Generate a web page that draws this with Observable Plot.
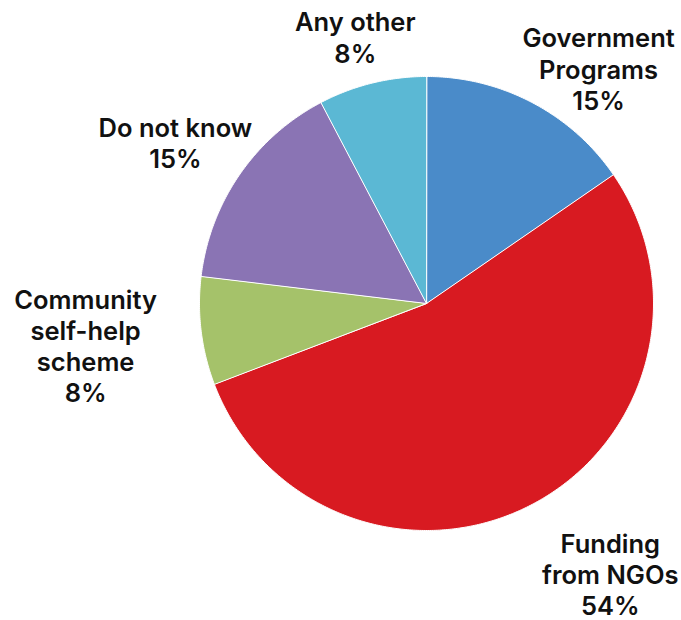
<!DOCTYPE html>
<html>
<head>
<meta charset="utf-8">
<script src="https://cdn.jsdelivr.net/npm/d3@7"></script>
<script src="https://cdn.jsdelivr.net/npm/@observablehq/plot@0.6"></script>
<style>
  html, body { margin: 0; padding: 0; background: #fff; }
  #chart svg { display: block; }
</style>
</head>
<body>
<div id="chart"></div>
<script>
// ---- data ----
const categories = ["Government\nPrograms", "Funding\nfrom NGOs", "Community\nself-help\nscheme", "Do not know", "Any other"];
const values = [15.4, 53.8, 7.7, 15.4, 7.7];
const percentLabels = ["15%", "54%", "8%", "15%", "8%"];
const colors = ["#4a8bc9", "#d81a21", "#a5c26a", "#8a74b4", "#5bb8d4"];

// ---- label layout (radius in pie radii, angular nudge in degrees) ----
const labelRadius = [1.283, 1.44, 1.513, 1.314, 1.215];
const labelShift = [8.5, -6.5, 0, -1.9, -1.1];

// ---- geometry via d3.pie (clockwise from 12 o'clock) ----
const arcs = d3.pie().sort(null).value(d => d)(values);
const polar = (a, r) => [r * Math.sin(a), r * Math.cos(a)];

const slicePoints = [];
arcs.forEach((a, i) => {
  const name = categories[i];
  slicePoints.push({name, x: 0, y: 0});
  const n = Math.max(2, Math.ceil((a.endAngle - a.startAngle) / (Math.PI / 360)));
  for (let k = 0; k <= n; k++) {
    const t = a.startAngle + (a.endAngle - a.startAngle) * k / n;
    const [x, y] = polar(t, 1);
    slicePoints.push({name, x, y});
  }
});

const labels = arcs.map((a, i) => {
  const mid = (a.startAngle + a.endAngle) / 2 + labelShift[i] * Math.PI / 180;
  const [x, y] = polar(mid, labelRadius[i]);
  return {x, y, text: categories[i] + "\n" + percentLabels[i]};
});

const cx = 426, cy = 303, R = 227;

const chart = Plot.plot({
  width: 681,
  height: 620,
  margin: 0,
  x: {domain: [-1, 1], range: [cx - R, cx + R], axis: null},
  y: {domain: [-1, 1], range: [cy + R, cy - R], axis: null},
  color: {domain: categories, range: colors},
  style: {fontFamily: "Inter, sans-serif", background: "#fff"},
  marks: [
    Plot.line(slicePoints, {
      x: "x", y: "y", z: "name", fill: "name",
      stroke: "white", strokeWidth: 1, curve: "linear-closed"
    }),
    Plot.text(labels, {
      x: "x", y: "y", text: "text",
      fontSize: 25.5, fontWeight: 600, lineHeight: 1.22,
      fill: "#111", textAnchor: "middle", lineAnchor: "middle"
    })
  ]
});
document.getElementById("chart").append(chart);
</script>
</body>
</html>
